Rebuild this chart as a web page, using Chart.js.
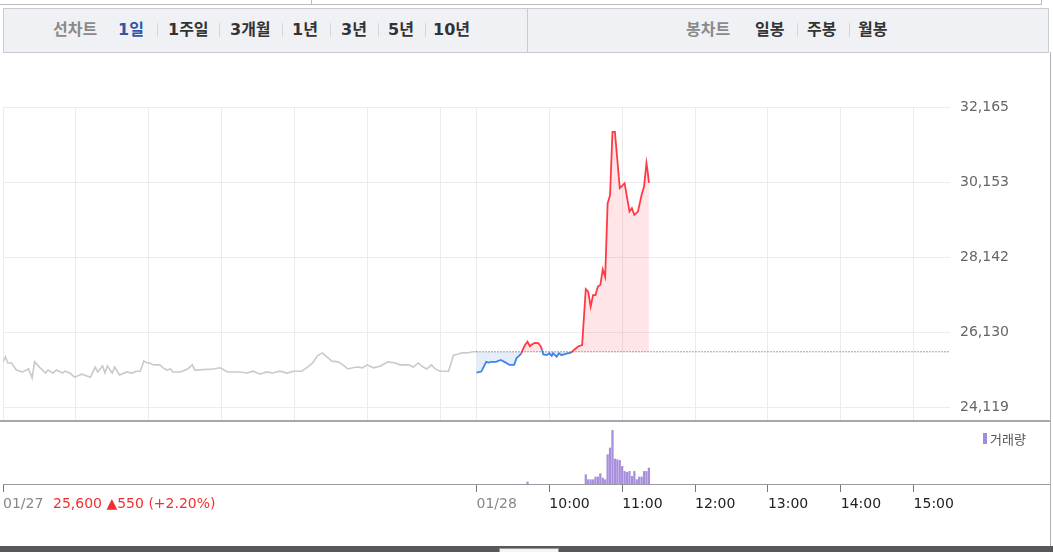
<!DOCTYPE html>
<html lang="ko">
<head>
<meta charset="utf-8">
<script src="https://cdn.jsdelivr.net/npm/chart.js@4.4.1/dist/chart.umd.min.js"></script>
<style>
body { margin:0; width:1053px; height:552px; position:relative; overflow:hidden; background:#fff; font-family:"Noto Sans CJK KR", sans-serif; }
.ln { position:absolute; }
.box { position:absolute; top:8px; height:43px; background:#f0f1f5; border:1px solid #c8cbd2; }
.tab { position:absolute; top:8px; line-height:44px; font-size:16px; font-weight:bold; color:#333; white-space:nowrap; font-family:"DejaVu Sans", "Noto Sans CJK KR", sans-serif; }
.tab.lbl { color:#8a8a8a; }
.tab.on { color:#3355a8; }
.sep { position:absolute; top:23px; width:1px; height:14px; background:#d4d6dc; }
canvas { position:absolute; left:0; }
</style>
</head>
<body>
<div class="ln" style="left:0;top:4px;width:1041px;height:1px;background:#bcbcc2"></div>
<div class="ln" style="left:311px;top:0;width:1px;height:5px;background:#bcbcc2"></div>
<div class="ln" style="left:1041px;top:0;width:1px;height:5px;background:#bcbcc2"></div>

<div class="box" style="left:3px;width:524px"></div>
<div class="box" style="left:527px;width:520px"></div>
<span class="tab lbl" style="left:53px">선차트</span>
<span class="tab on" style="left:118px">1일</span>
<span class="sep" style="left:157px"></span>
<span class="tab" style="left:168px">1주일</span>
<span class="sep" style="left:219px"></span>
<span class="tab" style="left:230px">3개월</span>
<span class="sep" style="left:282px"></span>
<span class="tab" style="left:292px">1년</span>
<span class="sep" style="left:330px"></span>
<span class="tab" style="left:341px">3년</span>
<span class="sep" style="left:378px"></span>
<span class="tab" style="left:388px">5년</span>
<span class="sep" style="left:425px"></span>
<span class="tab" style="left:433px">10년</span>
<span class="tab lbl" style="left:686px">봉차트</span>
<span class="tab" style="left:755px">일봉</span>
<span class="sep" style="left:797px"></span>
<span class="tab" style="left:807px">주봉</span>
<span class="sep" style="left:849px"></span>
<span class="tab" style="left:858px">월봉</span>

<canvas id="price" width="1053" height="331" style="top:90px"></canvas>
<canvas id="volume" width="1053" height="110" style="top:421px"></canvas>

<div class="ln" style="left:0;top:420px;width:1050px;height:2px;background:#a7a7ae"></div>
<div class="ln" style="left:3px;top:484px;width:1047px;height:1px;background:#9a9aa0"></div>
<div class="ln" style="left:1050px;top:52px;width:1px;height:495px;background:#b0b0b6"></div>
<div class="ln" style="left:983px;top:433px;width:4px;height:11px;background:#a28bd8"></div>
<span class="ln" style="left:990px;top:429px;font-size:13px;color:#555">거래량</span>
<span class="ln" style="left:53px;top:495px;font:14px 'DejaVu Sans';color:#f0302f;white-space:nowrap">25,600 ▲550 (+2.20%)</span>
<div class="ln" style="left:0;top:546px;width:1053px;height:6px;background:#58585c"></div>
<div class="ln" style="left:499px;top:548px;width:58px;height:4px;background:#f4f4f4;border:1px solid #999;border-bottom:none"></div>

<script>
const prevClose = 25600;
const sessionMinutes = 390;

// 01/27, minutes after 09:00
const prevTimes = [0,2,4,7,11,16,21,24,26,30,35,37,41,44,49,51,55,59,65,72,76,78,82,84,86,90,92,96,102,106,110,113,116,119,121,124,129,132,135,138,140,146,152,156,158,173,179,185,195,201,206,212,217,222,228,234,239,246,250,255,259,263,267,271,276,280,284,288,292,296,300,305,311,317,323,327,334,338,342,346,349,353,356,360,367,371,375,378,382,387,390];
const prevPrices = [25330,25460,25300,25300,25110,25060,25140,24900,25330,25190,25030,25110,25030,25110,25030,25080,25030,24920,25000,24920,25190,25060,25220,25030,25220,25030,25190,24980,25060,25030,25080,25080,25350,25300,25300,25250,25250,25170,25110,25140,25060,25060,25140,25250,25110,25140,25170,25060,25060,25030,25080,25000,25060,25030,25080,25030,25080,25080,25170,25300,25490,25570,25460,25350,25330,25250,25140,25170,25190,25170,25250,25170,25220,25330,25300,25250,25250,25190,25300,25190,25140,25250,25140,25080,25080,25510,25540,25570,25570,25600,25600];

// 01/28, minutes after 09:00
const todayTimes = [0,4,6,8,10,12,16,20,24,27,31,33,35,37,38,40,42,44,45,48,51,53,54,55,58,60,62,63,66,68,70,72,75,78,81,84,87,90,92,94,96,98,100,102,104,106,108,110,112,114,118,122,126,128,130,133,136,138,140,141,142];
const todayPrices = [25040,25070,25200,25330,25310,25330,25330,25380,25310,25250,25250,25430,25490,25560,25650,25780,25870,25750,25780,25840,25830,25740,25650,25530,25510,25560,25490,25560,25470,25560,25510,25530,25560,25580,25670,25750,25780,27280,27210,26810,27120,27120,27350,27390,27810,27610,29580,29800,31500,31500,29990,30120,29360,29450,29270,29360,29810,30030,30660,30430,30130];

const volTimes = [42,90,92,94,96,98,100,102,104,106,108,110,112,114,116,118,120,122,124,126,128,130,132,134,136,138,140,142];
const volValues = [20,93,43,43,43,70,70,103,60,43,293,360,536,250,243,236,176,126,116,126,76,126,43,70,70,126,126,160];

const priceTicks = [24119, 26130, 28142, 30153, 32165];
const gridMinutes = [0, 60, 120, 180, 240, 300, 360, 390, 450, 510, 570, 630, 690, 750];
const timeTicks = [0, 390, 450, 510, 570, 630, 690, 750];
const timeLabels = ['01/27', '01/28', '10:00', '11:00', '12:00', '13:00', '14:00', '15:00'];

const prevData = prevTimes.map((t, i) => ({ x: t, y: prevPrices[i] }));
const todayData = todayTimes.map((t, i) => ({ x: t + sessionMinutes, y: todayPrices[i] }));
const volData = volTimes.map((t, i) => ({ x: t + sessionMinutes, y: volValues[i] }));

new Chart(document.getElementById('price'), {
    type: 'line',
    data: {
        datasets: [
            {
                data: [{ x: sessionMinutes, y: prevClose }, { x: 2 * sessionMinutes, y: prevClose }],
                borderColor: '#444', borderWidth: 1, borderDash: [1, 2], pointRadius: 0
            },
            {
                data: todayData, borderWidth: 1.8, pointRadius: 0, tension: 0,
                borderColor: '#ff3a44',
                segment: {
                    borderColor: c => ((c.p0.parsed.y + c.p1.parsed.y) / 2 >= prevClose ? '#ff3a44' : '#3d86e8')
                },
                fill: { target: { value: prevClose }, above: 'rgba(255,40,60,0.12)', below: 'rgba(70,130,220,0.14)' }
            },
            {
                data: prevData, borderColor: '#c9c9cf', borderWidth: 1.6, pointRadius: 0, tension: 0
            }
        ]
    },
    options: {
        animation: false, responsive: false, devicePixelRatio: 1,
        layout: { padding: { left: 3, top: 17, right: 0, bottom: 0 } },
        plugins: { legend: { display: false }, tooltip: { enabled: false } },
        scales: {
            x: {
                type: 'linear', min: 0, max: 2 * sessionMinutes,
                afterBuildTicks: s => { s.ticks = gridMinutes.map(v => ({ value: v })); },
                ticks: { display: false },
                grid: { color: '#ececec', drawTicks: false },
                border: { display: false },
                afterFit: s => { s.height = 0; s.paddingLeft = 0; s.paddingRight = 0; }
            },
            y: {
                position: 'right', min: 23744, max: 32165,
                afterBuildTicks: s => { s.ticks = priceTicks.map(v => ({ value: v })); },
                ticks: {
                    color: '#666', padding: 10, font: { family: 'DejaVu Sans', size: 14 },
                    callback: v => v.toLocaleString('en-US')
                },
                grid: { color: '#ececec', drawTicks: false },
                border: { display: false },
                afterFit: s => { s.width = 103; s.paddingTop = 0; s.paddingBottom = 0; }
            }
        }
    }
});

new Chart(document.getElementById('volume'), {
    type: 'bar',
    data: {
        datasets: [{ data: volData, backgroundColor: '#a88fdc', barThickness: 1.6 }]
    },
    options: {
        animation: false, responsive: false, devicePixelRatio: 1,
        layout: { padding: { left: 3, top: 4, right: 103, bottom: 0 } },
        plugins: { legend: { display: false }, tooltip: { enabled: false } },
        scales: {
            x: {
                type: 'linear', min: 0, max: 2 * sessionMinutes, offset: false,
                afterBuildTicks: s => { s.ticks = timeTicks.map(v => ({ value: v })); },
                ticks: {
                    align: 'start', padding: 4, autoSkip: false, maxRotation: 0,
                    font: { family: 'DejaVu Sans', size: 14 },
                    color: c => (c.index < 2 ? '#888' : '#222'),
                    callback: v => timeLabels[timeTicks.indexOf(v)]
                },
                grid: { offset: false, drawOnChartArea: false, drawTicks: true, tickLength: 8, color: '#777' },
                border: { display: false },
                afterFit: s => { s.height = 47; s.paddingLeft = 0; s.paddingRight = 0; }
            },
            y: { display: false, min: 0, max: 590 }
        }
    }
});
</script>
</body>
</html>
